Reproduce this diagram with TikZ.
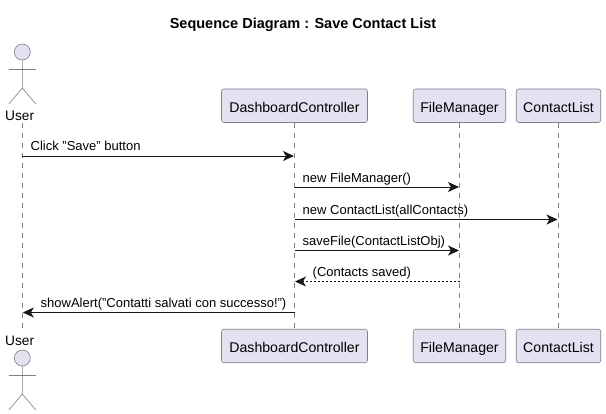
\documentclass[tikz,border=0pt]{standalone}
\usepackage{fontspec}
\setmainfont{Liberation Sans}
\usetikzlibrary{arrows.meta}
\definecolor{boxfill}{HTML}{E2E2F0}
\definecolor{boxline}{HTML}{7F7F88}
\definecolor{msgline}{HTML}{181818}
\tikzset{
	partbox/.style={draw=boxline,fill=boxfill,line width=0.6pt,rounded corners=2.5pt,minimum height=33.5pt,inner sep=0pt,text height=12.6pt,text depth=0pt,font=\fontsize{14.1}{16}\selectfont},
	userlabel/.style={inner sep=0pt,text height=10pt,text depth=0pt,font=\fontsize{13.7}{16}\selectfont},
	lifeline/.style={draw=boxline,line width=0.6pt,dash pattern=on 5pt off 5pt},
	msg/.style={draw=msgline,line width=0.9pt,-{Stealth[length=11pt,width=10pt,inset=3pt]}},
	reply/.style={draw=msgline,line width=0.6pt,dash pattern=on 2pt off 2pt,-{Stealth[length=11pt,width=10pt,inset=3pt,line width=0pt]}},
	msglabel/.style={anchor=base west,inner sep=0pt,font=\fontsize{13}{15}\selectfont,text=black},
}
% stick figure, #1 = x, #2 = y of head centre
\newcommand\stickman[2]{%
\draw[draw=boxline,fill=boxfill,line width=0.6pt] (#1,#2) circle(8);
\draw[draw=boxline,line width=0.6pt] (#1,#2+8) -- (#1,#2+36) (#1-13.5,#2+17.5) -- (#1+13.5,#2+17.5) (#1-13.5,#2+52) -- (#1,#2+36) -- (#1+13.5,#2+52);
}
\begin{document}
\begin{tikzpicture}[x=1pt,y=-1pt]
	\useasboundingbox (0,0) rectangle (606,413);
	\fill[white] (0,0) rectangle (606,413);

	\def\xUser{22.3}
	\def\xDash{294.5}
	\def\xFile{459.5}
	\def\xList{558.5}

	\node[font=\bfseries\fontsize{14.5}{16}\selectfont,inner sep=0pt] (title) at (303,25) {Sequence Diagram : Save Contact List};

	% participants, top row
	\stickman{\xUser}{52}
	\node[userlabel] (usertop) at (19.7,115) {User};
	\node[partbox,minimum width=146pt] (dashtop) at (\xDash,105.7) {DashboardController};
	\node[partbox,minimum width=92.5pt] (filetop) at (\xFile,105.7) {FileManager};
	\node[partbox,minimum width=84.5pt] (listtop) at (\xList,105.7) {ContactList};

	% participants, bottom row
	\node[userlabel] (userbot) at (19.7,340) {User};
	\stickman{\xUser}{358}
	\node[partbox,minimum width=146pt] (dashbot) at (\xDash,346) {DashboardController};
	\node[partbox,minimum width=92.5pt] (filebot) at (\xFile,346) {FileManager};
	\node[partbox,minimum width=84.5pt] (listbot) at (\xList,346) {ContactList};

	% lifelines
	\coordinate (userfrom) at (\xUser,122.5);
	\coordinate (userto) at (\xUser,329.5);
	\draw[lifeline] (userfrom) -- (userto);
	\draw[lifeline] (dashtop.south) -- (dashbot.north);
	\draw[lifeline] (filetop.south) -- (filebot.north);
	\draw[lifeline] (listtop.south) -- (listbot.north);

	% messages
	\coordinate (m1a) at (\xUser,156);
	\coordinate (m1b) at (\xDash-0.5,156);
	\coordinate (m2a) at (\xDash,187);
	\coordinate (m2b) at (\xFile-0.5,187);
	\coordinate (m3a) at (\xDash,219.5);
	\coordinate (m3b) at (\xList-1,219.5);
	\coordinate (m4a) at (\xDash,250.5);
	\coordinate (m4b) at (\xFile-0.5,250.5);
	\coordinate (m5a) at (\xFile,281.5);
	\coordinate (m5b) at (\xDash+0.5,281.5);
	\coordinate (m6a) at (\xDash,312.5);
	\coordinate (m6b) at (\xUser+0.5,312.5);

	\draw[msg] (m1a) -- (m1b);
	\draw[msg] (m2a) -- (m2b);
	\draw[msg] (m3a) -- (m3b);
	\draw[msg] (m4a) -- (m4b);
	\draw[reply] (m5a) -- (m5b);
	\draw[msg] (m6a) -- (m6b);

	\node[msglabel] (t1) at (30.5,150.7) {Click "Save" button};
	\node[msglabel] (t2) at (302.5,182.5) {new FileManager()};
	\node[msglabel] (t3) at (302.5,214.5) {new ContactList(allContacts)};
	\node[msglabel] (t4) at (302.5,245.5) {saveFile(ContactListObj)};
	\node[msglabel] (t5) at (312.5,276.5) {(Contacts saved)};
	\node[msglabel] (t6) at (40.5,307.7) {showAlert("Contatti salvati con successo!")};
\end{tikzpicture}
\end{document}
